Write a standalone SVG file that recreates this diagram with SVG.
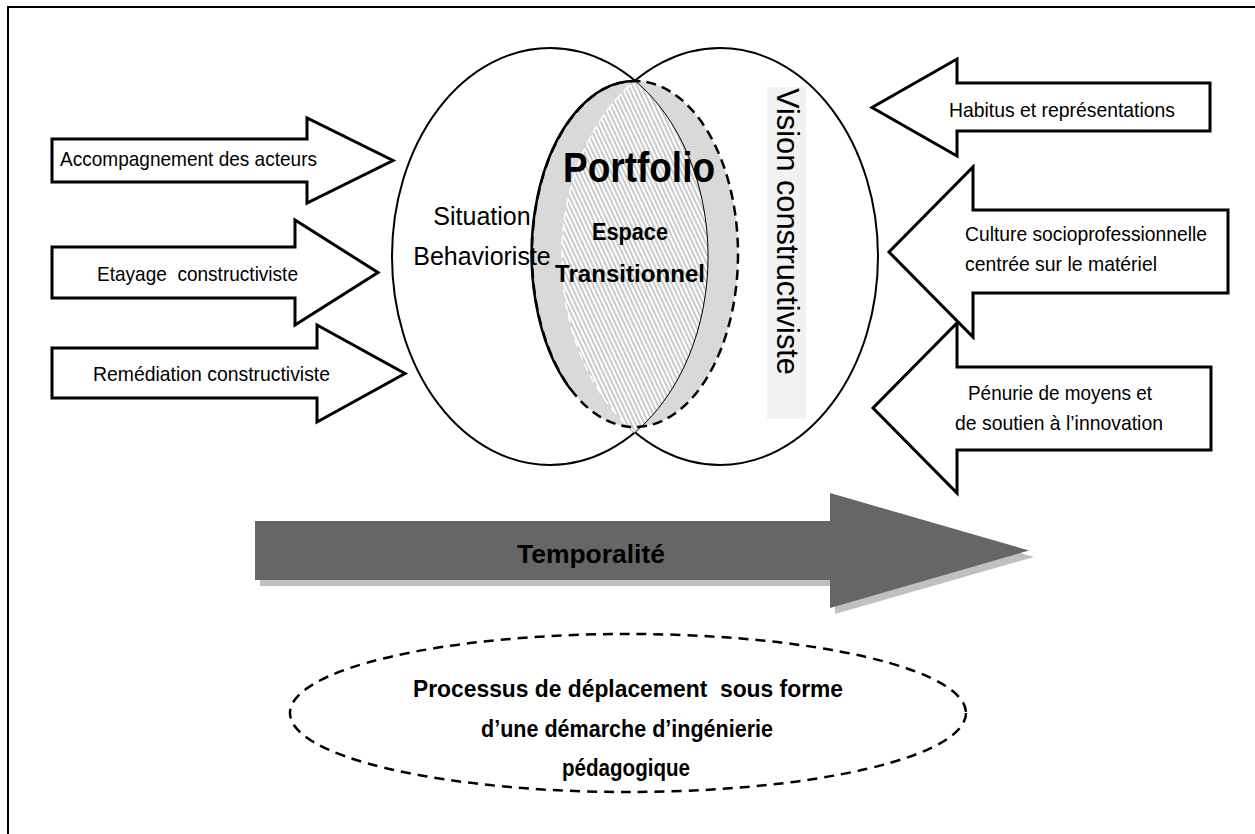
<svg xmlns="http://www.w3.org/2000/svg" width="1255" height="834" viewBox="0 0 1255 834">
<defs>
<style>
.t{font-family:"Liberation Sans",Arial,sans-serif;fill:#000}
.lbl{font-size:21px}
.b{font-weight:bold}
.arrow{fill:#fff;stroke:#000;stroke-width:3;stroke-linejoin:miter}
.ell{fill:#fff;stroke:#000;stroke-width:2}
</style>
<pattern id="hatch" patternUnits="userSpaceOnUse" width="4" height="4" patternTransform="rotate(-25)">
<rect width="4" height="4" fill="#fff"/>
<line x1="1" y1="0" x2="1" y2="4" stroke="#b8b8b8" stroke-width="1.5"/>
</pattern>
</defs>
<rect width="1255" height="834" fill="#fff"/>
<path id="frame" d="M8,834 V7 H1255" fill="none" stroke="#000" stroke-width="2"/>

<g id="situation-behavioriste">
<ellipse class="ell" cx="550" cy="256.5" rx="158" ry="208.5"/>
</g>
<g id="vision-constructiviste">
<ellipse class="ell" cx="720" cy="256.5" rx="158" ry="208.5"/>
<rect x="767" y="87" width="39" height="332" fill="#f2f2f2"/>
<text class="t" font-size="30.5" transform="translate(777,88) rotate(90)" textLength="287" lengthAdjust="spacingAndGlyphs">Vision constructiviste</text>
</g>

<g id="portfolio">
<ellipse cx="635" cy="254" rx="103" ry="173" fill="#d9d9d9"/>
<path d="M635,80.7 A158,208.5 0 0 1 635,432.3 A158,208.5 0 0 1 635,80.7 Z" fill="url(#hatch)"/>
<path d="M635,80.7 A158,208.5 0 0 1 635,432.3" fill="none" stroke="#000" stroke-width="1"/>
<path d="M635,432.3 A158,208.5 0 0 1 635,80.7" fill="none" stroke="#fff" stroke-width="1.5" stroke-dasharray="8 5"/>
<ellipse cx="635" cy="254" rx="103" ry="173" fill="none" stroke="#000" stroke-width="2.5" stroke-dasharray="10 6"/>
<path d="M635,81 A103,173 0 0 0 571,390" fill="none" stroke="#000" stroke-width="2.5"/>
<text class="t b" font-size="42" x="563" y="182" textLength="152" lengthAdjust="spacingAndGlyphs">Portfolio</text>
<text class="t b" font-size="23" x="592" y="240" textLength="76" lengthAdjust="spacingAndGlyphs">Espace</text>
<text class="t b" font-size="24" x="555" y="282" textLength="150" lengthAdjust="spacingAndGlyphs">Transitionnel</text>
</g>

<g id="situation-label">
<text class="t" font-size="25" x="482" y="225" text-anchor="middle">Situation</text>
<text class="t" font-size="25" x="482" y="265" text-anchor="middle">Behavioriste</text>
</g>

<g id="arrow-accompagnement">
<path class="arrow" d="M52,139 H307 V118 L393,160.5 L307,203 V182 H52 Z"/>
<text class="t lbl" x="60" y="166" textLength="257" lengthAdjust="spacingAndGlyphs">Accompagnement des acteurs</text>
</g>
<g id="arrow-etayage">
<path class="arrow" d="M52,247 H295 V220 L378,272.5 L295,325 V298 H52 Z"/>
<text class="t lbl" x="97" y="281" xml:space="preserve" textLength="201" lengthAdjust="spacingAndGlyphs">Etayage  constructiviste</text>
</g>
<g id="arrow-remediation">
<path class="arrow" d="M52,348 H317 V325 L405,373.5 L317,422 V398 H52 Z"/>
<text class="t lbl" x="93" y="381" textLength="237" lengthAdjust="spacingAndGlyphs">Remédiation constructiviste</text>
</g>

<g id="arrow-habitus">
<path class="arrow" d="M1210,83 H957 V59 L872,107.5 L957,156 V131 H1210 Z"/>
<text class="t lbl" x="949" y="117" textLength="226" lengthAdjust="spacingAndGlyphs">Habitus et représentations</text>
</g>
<g id="arrow-penurie">
<path class="arrow" d="M1211,367 H957 V323 L873,408 L957,493 V450 H1211 Z"/>
<text class="t lbl" x="968" y="400" textLength="184" lengthAdjust="spacingAndGlyphs">Pénurie de moyens et</text>
<text class="t lbl" x="955" y="430" textLength="208" lengthAdjust="spacingAndGlyphs">de soutien à l’innovation</text>
</g>
<g id="arrow-culture">
<path class="arrow" d="M1228,210 H973 V167 L889,252 L973,337 V293 H1228 Z"/>
<text class="t lbl" x="965" y="241" textLength="242" lengthAdjust="spacingAndGlyphs">Culture socioprofessionnelle</text>
<text class="t lbl" x="965" y="271" textLength="192" lengthAdjust="spacingAndGlyphs">centrée sur le matériel</text>
</g>

<g id="temporalite">
<path d="M260,527 H835 V499 L1034,557 L835,614 V586 H260 Z" fill="#c0c0c0"/>
<path d="M255,521 H830 V493 L1029,550.5 L830,608 V580 H255 Z" fill="#666"/>
<text class="t b" font-size="26" x="517" y="563" textLength="148" lengthAdjust="spacingAndGlyphs">Temporalité</text>
</g>

<g id="processus">
<ellipse cx="628" cy="713" rx="338" ry="79" fill="none" stroke="#000" stroke-width="2.5" stroke-dasharray="10 7"/>
<text class="t b" font-size="23.5" x="628" y="697" text-anchor="middle" xml:space="preserve" textLength="430" lengthAdjust="spacingAndGlyphs">Processus de déplacement  sous forme</text>
<text class="t b" font-size="23.5" x="627" y="737" text-anchor="middle" textLength="292" lengthAdjust="spacingAndGlyphs">d’une démarche d’ingénierie</text>
<text class="t b" font-size="23.5" x="626" y="776" text-anchor="middle" textLength="128" lengthAdjust="spacingAndGlyphs">pédagogique</text>
</g>
</svg>
